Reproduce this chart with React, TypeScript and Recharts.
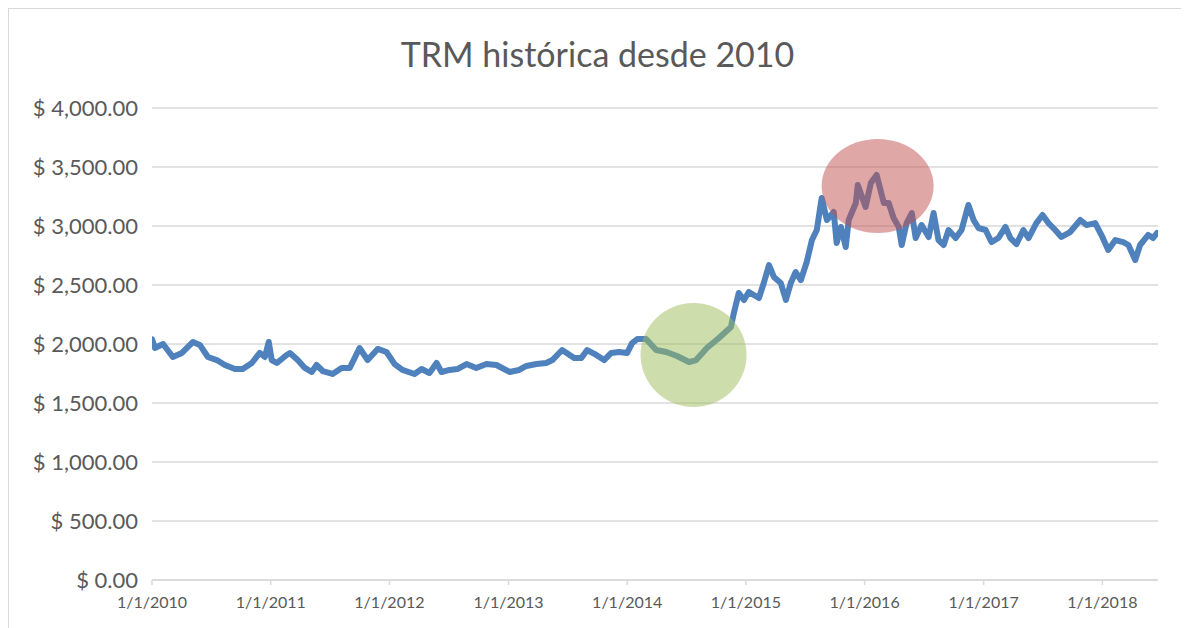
import { LineChart, Line, XAxis, YAxis, CartesianGrid, ReferenceDot } from 'recharts';

// TRM (COP per USD)
const dates = [
  '2010-01-01', '2010-01-10', '2010-02-04', '2010-03-06', '2010-04-03', '2010-05-07', '2010-05-28', '2010-06-22',
  '2010-07-19', '2010-08-13', '2010-09-13', '2010-10-07', '2010-11-04', '2010-11-28', '2010-12-14', '2010-12-26',
  '2011-01-04', '2011-01-20', '2011-02-19', '2011-03-01', '2011-03-25', '2011-04-16', '2011-05-07', '2011-05-22',
  '2011-06-10', '2011-07-10', '2011-08-07', '2011-09-01', '2011-09-16', '2011-10-01', '2011-10-26', '2011-11-26',
  '2011-12-23', '2012-01-17', '2012-02-10', '2012-03-18', '2012-04-09', '2012-05-03', '2012-05-25', '2012-06-09',
  '2012-07-04', '2012-07-28', '2012-08-25', '2012-09-24', '2012-10-25', '2012-11-25', '2013-01-04', '2013-02-03',
  '2013-02-25', '2013-03-28', '2013-04-27', '2013-05-16', '2013-06-06', '2013-06-15', '2013-07-22', '2013-08-13',
  '2013-08-31', '2013-09-28', '2013-10-22', '2013-11-13', '2013-12-07', '2014-01-01', '2014-01-16', '2014-02-01',
  '2014-02-28', '2014-03-31', '2014-05-01', '2014-06-03', '2014-07-10', '2014-08-01', '2014-09-03', '2014-10-10',
  '2014-11-16', '2014-11-25', '2014-12-10', '2014-12-26', '2015-01-10', '2015-02-10', '2015-02-25', '2015-03-13',
  '2015-03-28', '2015-04-18', '2015-05-04', '2015-05-19', '2015-06-03', '2015-06-19', '2015-07-07', '2015-07-23',
  '2015-08-07', '2015-08-22', '2015-09-07', '2015-09-28', '2015-10-07', '2015-10-20', '2015-11-04', '2015-11-13',
  '2015-12-05', '2015-12-11', '2016-01-04', '2016-01-20', '2016-02-07', '2016-02-29', '2016-03-15', '2016-03-30',
  '2016-04-15', '2016-04-24', '2016-05-09', '2016-05-25', '2016-06-06', '2016-06-24', '2016-07-16', '2016-07-31',
  '2016-08-15', '2016-08-31', '2016-09-15', '2016-10-07', '2016-10-25', '2016-11-15', '2016-12-01', '2016-12-16',
  '2017-01-07', '2017-01-25', '2017-02-15', '2017-03-09', '2017-03-24', '2017-04-12', '2017-05-03', '2017-05-19',
  '2017-06-12', '2017-07-01', '2017-07-19', '2017-08-09', '2017-08-28', '2017-09-24', '2017-10-25', '2017-11-13',
  '2017-12-10', '2018-01-01', '2018-01-19', '2018-02-10', '2018-03-06', '2018-03-22', '2018-04-12', '2018-04-27',
  '2018-05-22', '2018-06-06', '2018-06-18',
];

const trm = [
  2040, 1966, 2000, 1890, 1924, 2017, 1992, 1890,
  1864, 1822, 1788, 1788, 1839, 1924, 1890, 2017,
  1864, 1839, 1907, 1924, 1864, 1797, 1763, 1822,
  1771, 1746, 1797, 1797, 1881, 1966, 1864, 1958,
  1932, 1830, 1780, 1746, 1788, 1754, 1839, 1763,
  1780, 1788, 1830, 1797, 1830, 1822, 1763, 1780,
  1814, 1830, 1839, 1864, 1924, 1949, 1881, 1881,
  1949, 1907, 1864, 1924, 1932, 1924, 2008, 2042,
  2042, 1949, 1932, 1898, 1847, 1864, 1966, 2051,
  2144, 2263, 2432, 2373, 2441, 2390, 2517, 2669,
  2568, 2517, 2373, 2517, 2610, 2542, 2695, 2881,
  2966, 3237, 3051, 3119, 2856, 2992, 2822, 3051,
  3195, 3347, 3161, 3364, 3432, 3195, 3195, 3068,
  2992, 2839, 3025, 3110, 2898, 3008, 2907, 3110,
  2881, 2839, 2966, 2898, 2966, 3178, 3051, 2983,
  2966, 2864, 2898, 2992, 2898, 2847, 2966, 2898,
  3025, 3093, 3025, 2966, 2907, 2949, 3051, 3008,
  3025, 2907, 2797, 2881, 2864, 2839, 2712, 2839,
  2924, 2898, 2941,
];

const yearTicks = ['2010-01-01', '2011-01-01', '2012-01-01', '2013-01-01', '2014-01-01', '2015-01-01', '2016-01-01', '2017-01-01', '2018-01-01'];
const yTicks = [0, 500, 1000, 1500, 2000, 2500, 3000, 3500, 4000];

// highlighted zones: [date, value]
const greenZone = { date: '2014-07-24', value: 1907 };
const redZone = { date: '2016-02-10', value: 3339 };

const ts = (s: string) => Date.parse(s + 'T00:00:00Z');

const data = dates.map((d, i) => ({ t: ts(d), trm: trm[i] }));

const fmtDate = (v: number) => {
  const d = new Date(v);
  return `${d.getUTCMonth() + 1}/${d.getUTCDate()}/${d.getUTCFullYear()}`;
};
const fmtMoney = (v: number) =>
  '$ ' + v.toLocaleString('en-US', { minimumFractionDigits: 2, maximumFractionDigits: 2 });

const font = 'Lato, "Open Sans", sans-serif';

const ellipse = (rx: number, ry: number, fill: string, opacity: number) => (props: any) => (
  <ellipse cx={props.cx} cy={props.cy} rx={rx} ry={ry} fill={fill} fillOpacity={opacity} />
);

export default function App() {
  return (
    <div
      style={{
        position: 'relative',
        width: 1177,
        height: 640,
        border: '1px solid #d9d9d9',
        background: '#fff',
        fontFamily: font,
      }}
    >
      <div
        style={{
          position: 'absolute',
          top: 24,
          left: 0,
          width: '100%',
          textAlign: 'center',
          fontSize: 34,
          color: '#595959',
        }}
      >
        TRM histórica desde 2010
      </div>
      <LineChart width={1177} height={620} data={data} margin={{ top: 99, right: 28, bottom: 0, left: 0 }}>
        <CartesianGrid vertical={false} stroke="#d9d9d9" strokeWidth={1.5} />
        <XAxis
          dataKey="t"
          type="number"
          scale="time"
          domain={[ts('2010-01-01'), ts('2018-06-21')]}
          ticks={yearTicks.map(ts)}
          tickFormatter={fmtDate}
          stroke="#d9d9d9"
          strokeWidth={1.5}
          tickSize={5}
          tickMargin={12}
          height={49}
          tick={{ fill: '#595959', fontSize: 16, fontFamily: font }}
          allowDataOverflow
        />
        <YAxis
          domain={[0, 4000]}
          ticks={yTicks}
          tickFormatter={fmtMoney}
          axisLine={false}
          tickLine={false}
          width={143}
          tickMargin={8}
          tick={{ fill: '#595959', fontSize: 22, fontFamily: font }}
        />
        <Line
          type="linear"
          dataKey="trm"
          stroke="#4f81bd"
          strokeWidth={6}
          strokeLinejoin="round"
          strokeLinecap="round"
          dot={false}
          isAnimationActive={false}
        />
        <ReferenceDot
          x={ts(greenZone.date)}
          y={greenZone.value}
          ifOverflow="visible"
          shape={ellipse(53, 52, '#9bbb59', 0.5)}
        />
        <ReferenceDot
          x={ts(redZone.date)}
          y={redZone.value}
          ifOverflow="visible"
          shape={ellipse(56, 47, '#c0504d', 0.5)}
        />
      </LineChart>
    </div>
  );
}
